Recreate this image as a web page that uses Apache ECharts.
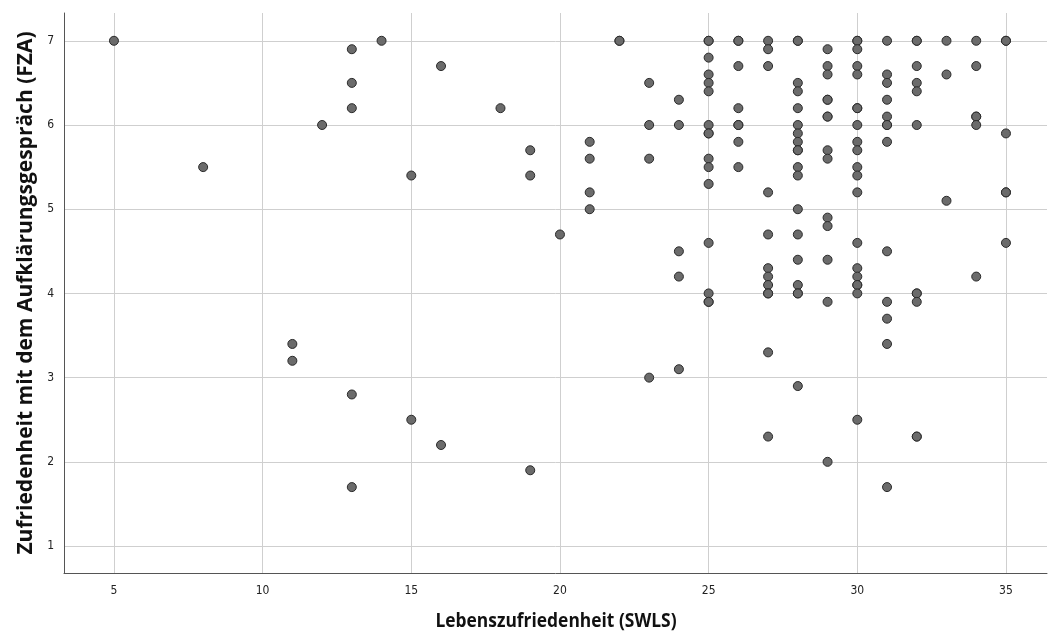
<!DOCTYPE html>
<html>
<head>
<meta charset="utf-8">
<script src="https://cdn.jsdelivr.net/npm/echarts@6/dist/echarts.min.js"></script>
<style>html,body{margin:0;padding:0;background:#fff}#c{width:1051px;height:637px}</style>
</head>
<body>
<div id="c"></div>
<script>
// SWLS (x) values, one array of FZA (y) values per x
const xTicks = [5, 10, 15, 20, 25, 30, 35];
const yTicks = [1, 2, 3, 4, 5, 6, 7];
const xTitle = 'Lebenszufriedenheit (SWLS)';
const yTitle = 'Zufriedenheit mit dem Aufklärungsgespräch (FZA)';
const swls = [5, 8, 11, 12, 13, 14, 15, 16, 18, 19, 20, 21, 22, 23, 24, 25, 26, 27, 28, 29, 30, 31, 32, 33, 34, 35];
const fza = [
  [7.0],
  [5.5],
  [3.4, 3.2],
  [6.0],
  [6.9, 6.5, 6.2, 2.8, 1.7],
  [7.0],
  [5.4, 2.5],
  [6.7, 2.2],
  [6.2],
  [5.7, 5.4, 1.9],
  [4.7],
  [5.8, 5.6, 5.2, 5.0],
  [7.0, 7.0],
  [6.5, 6.0, 5.6, 3.0],
  [6.3, 6.0, 4.5, 4.2, 3.1],
  [7.0, 7.0, 6.8, 6.6, 6.5, 6.4, 6.0, 5.9, 5.9, 5.6, 5.5, 5.3, 4.6, 4.0, 3.9, 3.9],
  [7.0, 7.0, 6.7, 6.2, 6.0, 6.0, 5.8, 5.5],
  [7.0, 6.9, 6.7, 5.2, 4.7, 4.3, 4.2, 4.1, 4.0, 4.0, 3.3, 2.3],
  [7.0, 7.0, 6.5, 6.4, 6.2, 6.0, 5.9, 5.8, 5.7, 5.7, 5.5, 5.4, 5.0, 4.7, 4.4, 4.1, 4.0, 4.0, 2.9],
  [6.9, 6.7, 6.6, 6.3, 6.3, 6.1, 6.1, 5.7, 5.6, 4.9, 4.8, 4.4, 3.9, 2.0],
  [7.0, 7.0, 6.9, 6.7, 6.6, 6.2, 6.2, 6.0, 5.8, 5.7, 5.5, 5.4, 5.2, 4.6, 4.3, 4.2, 4.1, 4.1, 4.0, 2.5],
  [7.0, 6.6, 6.5, 6.3, 6.1, 6.0, 6.0, 5.8, 4.5, 3.9, 3.7, 3.4, 1.7],
  [7.0, 7.0, 6.7, 6.5, 6.4, 6.0, 4.0, 4.0, 3.9, 2.3, 2.3],
  [7.0, 6.6, 5.1],
  [7.0, 6.7, 6.1, 6.1, 6.0, 4.2],
  [7.0, 7.0, 5.9, 5.2, 5.2, 4.6]
];

const points = [];
swls.forEach((x, i) => fza[i].forEach(y => points.push([x, y])));

const chart = echarts.init(document.getElementById('c'), null, {renderer: 'canvas'});
const cond = 'DejaVu Sans Condensed';
chart.setOption({
  animation: false,
  backgroundColor: '#fff',
  grid: {left: 64, right: 4, top: 13, bottom: 64, containLabel: false},
  graphic: [{
    type: 'text',
    x: 556, y: 621,
    scaleX: 0.87,
    style: {
      text: xTitle,
      font: 'bold 20px "Open Sans"',
      fill: '#111',
      textAlign: 'center',
      textVerticalAlign: 'middle'
    }
  }],
  xAxis: {
    type: 'value', min: 3.32, max: 36.38,
    axisLine: {show: true, onZero: false, lineStyle: {color: '#555', width: 1}},
    axisTick: {show: false, customValues: xTicks},
    axisLabel: {customValues: xTicks, fontFamily: cond, fontSize: 12, color: '#222', margin: 12},
    splitLine: {show: true, lineStyle: {color: '#cfcfcf', width: 1}}
  },
  yAxis: {
    type: 'value', min: 0.68, max: 7.33,
    name: yTitle, nameLocation: 'middle', nameGap: 26,
    nameTextStyle: {fontFamily: 'Open Sans', fontWeight: 'bold', fontSize: 21, color: '#111'},
    axisLine: {show: true, onZero: false, lineStyle: {color: '#555', width: 1}},
    axisTick: {show: false, customValues: yTicks},
    axisLabel: {customValues: yTicks, fontFamily: cond, fontSize: 12, color: '#222', margin: 10},
    splitLine: {show: true, lineStyle: {color: '#cfcfcf', width: 1}}
  },
  series: [{
    type: 'scatter',
    data: points,
    symbol: 'circle',
    symbolSize: 9,
    itemStyle: {color: '#6b6b6b', borderColor: '#2a2a2a', borderWidth: 1, opacity: 1}
  }]
});
</script>
</body>
</html>
